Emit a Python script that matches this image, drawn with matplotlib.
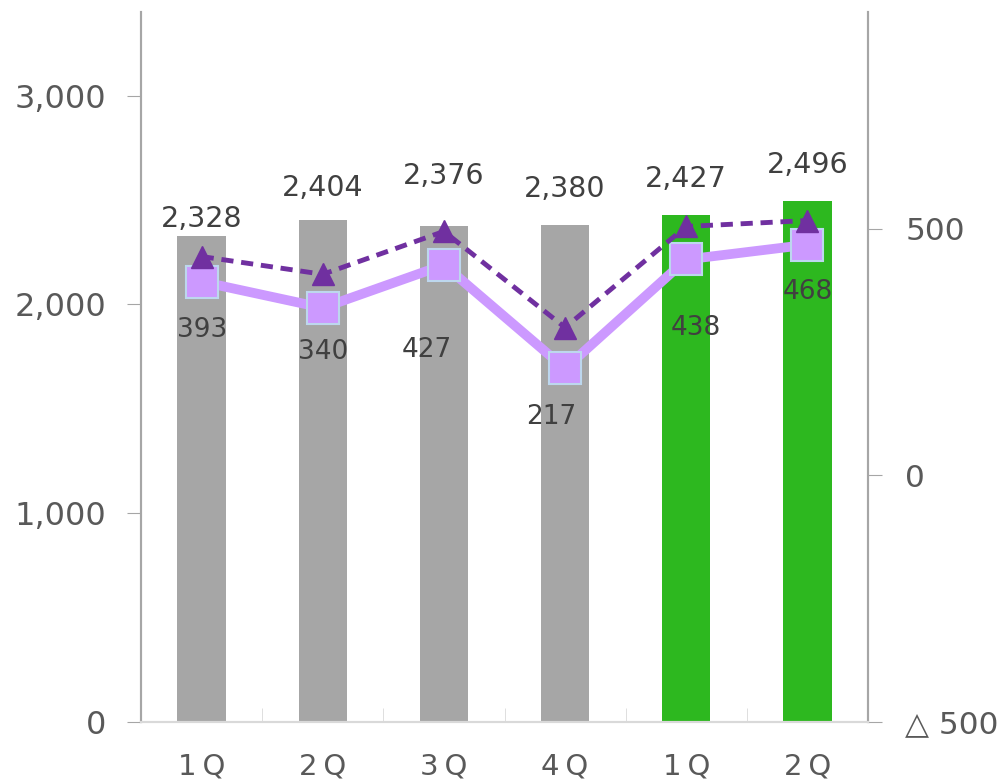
import matplotlib.pyplot as plt
import numpy as np

plt.rcParams['font.family'] = ['DejaVu Sans']

quarters = ['1\u2009Q', '2\u2009Q', '3\u2009Q', '4\u2009Q', '1\u2009Q', '2\u2009Q']
sales = [2328, 2404, 2376, 2380, 2427, 2496]
profit = [393, 340, 427, 217, 438, 468]
profit2 = [444, 408, 495, 300, 505, 517]
bar_colors = ['#A6A6A6'] * 4 + ['#2DB81F'] * 2

# label offsets (points) picked to mimic the reference placement
bar_lab_dy = [2, 13, 26, 16, 16, 16]
sq_lab_dx = [0, 0, -12, -10, 7, 0]
sq_lab_dy = [-35, -32, -61, -35, -49, -34]

x = np.arange(len(quarters))
fig = plt.figure(figsize=(10.08, 7.82), dpi=100)
ax = fig.add_axes([0.140, 0.0767, 0.721, 0.908])
ax2 = ax.twinx()

ax.bar(x, sales, width=0.4, color=bar_colors, zorder=1)
ax.set_xlim(-0.5, len(quarters) - 0.5)
ax.set_ylim(0, 3400)
ax.set_yticks([0, 1000, 2000, 3000])
ax.set_yticklabels(['0', '1,000', '2,000', '3,000'])
for i, v in enumerate(sales):
    ax.annotate(f'{v:,}', (x[i], v), xytext=(0, bar_lab_dy[i]), textcoords='offset points',
                ha='center', va='bottom', fontsize=20.5, color='#404040')

ax2.plot(x, profit, color='#CC99FF', lw=7, marker='s', ms=23, mfc='#CC99FF',
         mec='#BDD7EE', mew=1.5, zorder=3)
ax2.plot(x, profit2, color='#7030A0', lw=3.5, ls=(0, (2.5, 1.6)), marker='^', ms=16,
         mfc='#7030A0', mec='#7030A0', zorder=4)
for i, v in enumerate(profit):
    ax2.annotate(f'{v}', (x[i], v), xytext=(sq_lab_dx[i], sq_lab_dy[i]), textcoords='offset points',
                 ha='center', va='center', fontsize=19, color='#404040')
ax2.set_ylim(-500, 940)
ax2.set_yticks([-500, 0, 500])
ax2.set_yticklabels(['△ 500', '0', '500'])

ax.set_xticks(x)
ax.set_xticklabels(quarters)
ax.set_xticks(np.arange(-0.5, len(quarters), 1), minor=True)
ax.tick_params(axis='x', which='major', length=0, pad=22, labelsize=21, labelcolor='#595959')
ax.tick_params(axis='x', which='minor', direction='in', length=10, color='#D9D9D9')
ax.tick_params(axis='y', length=10, color='#A6A6A6', labelsize=23, labelcolor='#595959', pad=15)
ax2.tick_params(axis='y', length=10, color='#A6A6A6', labelsize=22.5, labelcolor='#595959', pad=17)

for a in (ax, ax2):
    a.spines['top'].set_visible(False)
    a.spines['left'].set_color('#A6A6A6')
    a.spines['right'].set_color('#A6A6A6')
    a.spines['bottom'].set_color('#D9D9D9')
    a.spines['left'].set_linewidth(1.5)
    a.spines['right'].set_linewidth(1.5)
    a.spines['bottom'].set_linewidth(1.5)

fig.savefig('out.png', dpi=100)
